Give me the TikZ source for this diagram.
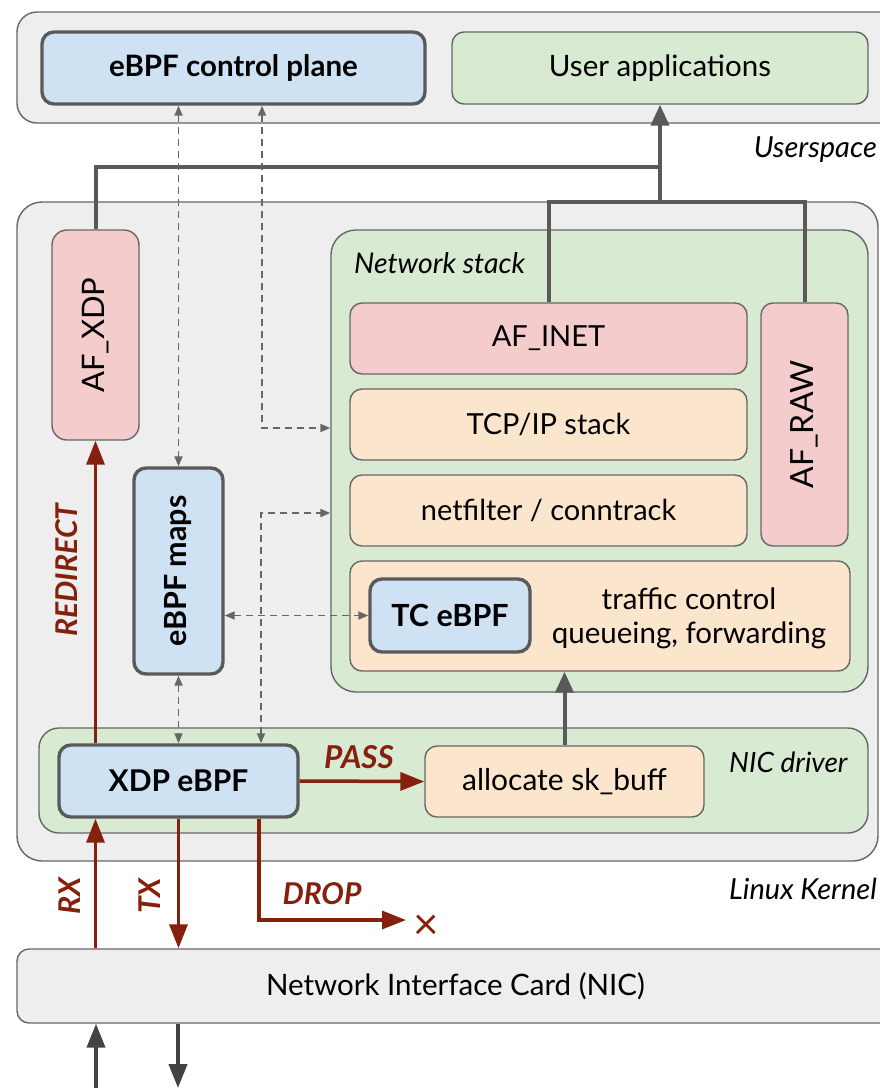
\documentclass[tikz,border=0pt]{standalone}
\usepackage{fontspec}
\usepackage{graphicx}
\setmainfont{Lato}
\usetikzlibrary{arrows.meta}

\definecolor{panelfill}{HTML}{EEEEEE}
\definecolor{edge}{HTML}{666666}
\definecolor{heavyedge}{HTML}{595959}
\definecolor{bluefill}{HTML}{CFE2F3}
\definecolor{greenfill}{HTML}{D9EAD3}
\definecolor{pinkfill}{HTML}{F4CCCC}
\definecolor{peachfill}{HTML}{FCE5CD}
\definecolor{flowred}{HTML}{85200C}
\definecolor{linkgray}{HTML}{595959}
\definecolor{wiregray}{HTML}{434343}

\newcommand{\sz}[2]{\fontsize{#1pt}{#2pt}\selectfont}

\tikzset{
  box/.style={draw=edge, line width=1.4pt, rounded corners=12pt, inner sep=0pt, text=black},
  panel/.style={box, fill=panelfill},
  greenbox/.style={box, fill=greenfill},
  pinkbox/.style={box, fill=pinkfill},
  peachbox/.style={box, fill=peachfill},
  ebpfbox/.style={box, draw=heavyedge, line width=3.4pt, fill=bluefill, font=\bfseries},
  caption/.style={inner sep=0pt, font=\itshape},
  flow/.style={draw=flowred, line width=3.5pt, -{Triangle[length=24pt,width=18pt]}},
  flowlabel/.style={inner sep=0pt, text=flowred, font=\bfseries\itshape\sz{30}{36}},
  sockpath/.style={draw=linkgray, line width=4pt},
  ctrllink/.style={draw=edge, line width=1.8pt, dash pattern=on 7pt off 5pt,
    {Triangle[length=10pt,width=8pt]}-{Triangle[length=10pt,width=8pt]}},
  wire/.style={draw=wiregray, line width=4pt},
}

\begin{document}
\begin{tikzpicture}[x=1pt, y=-1pt]
\useasboundingbox (0,0) rectangle (879,1088);

% ---------- Userspace ----------
\node[panel, rounded corners=20pt, minimum width=884pt, minimum height=111pt] (user) at (459,67.5) {};
\node[ebpfbox, minimum width=383pt, minimum height=72pt, font=\bfseries\sz{29.5}{35}] (ctrl) at (233.5,68) {eBPF control plane};
\node[greenbox, minimum width=416pt, minimum height=72pt, font=\sz{29.5}{35}] (apps) at (660,68) {User applications};
\node[caption, anchor=base east, font=\itshape\sz{29}{35}] (userlbl) at (877,157) {Userspace};

% ---------- Linux kernel ----------
\node[panel, rounded corners=25pt, minimum width=861pt, minimum height=659pt] (kernel) at (447.5,531.5) {};
\node[caption, anchor=base east, font=\itshape\sz{29}{35}] (kernlbl) at (877,899) {Linux Kernel};

\node[pinkbox, rounded corners=15pt, minimum width=87pt, minimum height=210pt, font=\sz{31}{37}] (afxdp) at (95.5,335) {\rotatebox{90}{AF\_XDP}};

% network stack
\node[greenbox, rounded corners=25pt, minimum width=537pt, minimum height=462pt] (netstack) at (599.5,461) {};
\node[caption, anchor=base west, font=\itshape\sz{28.5}{34}] (netlbl) at (354,273) {Network stack};
\node[pinkbox, minimum width=397pt, minimum height=71pt, font=\sz{29}{35}] (afinet) at (548.5,338.5) {AF\_INET};
\node[peachbox, minimum width=397pt, minimum height=71pt, font=\sz{29}{35}] (tcpip) at (548.5,424.5) {TCP/IP stack};
\node[peachbox, minimum width=397pt, minimum height=71pt, font=\sz{29}{35}] (netfilter) at (548.5,510.5) {netfilter / conntrack};
\node[pinkbox, minimum width=87pt, minimum height=243pt, font=\sz{32}{38}] (afraw) at (804.5,424.5) {\rotatebox{90}{AF\_RAW}};
\node[peachbox, minimum width=500pt, minimum height=110pt] (tcbox) at (600,616) {};
\node[ebpfbox, minimum width=160pt, minimum height=73pt, font=\bfseries\sz{30.5}{36}] (tcebpf) at (450,615.5) {TC eBPF};
\node[inner sep=0pt, align=center, font=\sz{29.5}{34}] (tctext) at (689,618) {traffic control\\queueing, forwarding};

% eBPF maps
\node[ebpfbox, minimum width=89pt, minimum height=206pt, font=\bfseries\sz{30.5}{36}] (maps) at (178.5,571) {\rotatebox{90}{eBPF maps}};

% NIC driver
\node[greenbox, rounded corners=20pt, minimum width=829pt, minimum height=105pt] (nicdrv) at (453.5,780.5) {};
\node[caption, anchor=base west, font=\itshape\sz{28}{34}] (drvlbl) at (729,772) {NIC driver};
\node[ebpfbox, minimum width=239pt, minimum height=72pt, font=\bfseries\sz{30}{36}] (xdp) at (178.5,781) {XDP eBPF};
\node[peachbox, minimum width=279pt, minimum height=71pt, font=\sz{30}{36}] (alloc) at (564.5,781.5) {allocate sk\_buff};

% ---------- NIC ----------
\node[panel, minimum width=884pt, minimum height=74pt] (nic) at (459,986) {};
\node[inner sep=0pt, font=\sz{29.5}{35}] (nictext) at (455.5,986) {Network Interface Card (NIC)};

% ---------- helper points ----------
\coordinate (jtop) at (660,167);
\coordinate (jlow) at (660,202);
\coordinate (cpR) at (262,428);
\coordinate (xdpR) at (261,513);
\coordinate (dropturn) at (259,920);
\coordinate (dropend) at (406,920);
\coordinate (wirein) at (96,1088);
\coordinate (wireout) at (178,1088);

% ---------- socket paths to userspace ----------
\draw[sockpath] (afxdp.north) |- (jtop);
\draw[sockpath] (afinet.north) |- (jlow) -| (afraw.north);
\draw[sockpath, -{Triangle[length=21pt,width=18pt]}] (jlow) -- (apps.south);
\draw[sockpath, -{Triangle[length=21pt,width=18pt]}] (alloc.north) -- (alloc.north |- tcbox.south);

% ---------- control links (dashed) ----------
\draw[ctrllink] (ctrl.south -| maps) -- (maps.north);
\draw[ctrllink] (ctrl.south -| cpR) |- (cpR -| netstack.west);
\draw[ctrllink] (maps.south) -- (xdp.north -| maps);
\draw[ctrllink] (xdp.north -| xdpR) |- (xdpR -| netstack.west);
\draw[ctrllink] (maps.east |- tcebpf.west) -- (tcebpf.west);

% ---------- XDP verdicts ----------
\draw[flow] (xdp.north -| afxdp) -- (afxdp.south);
\draw[flow] (nic.north -| afxdp) -- (xdp.south -| afxdp);
\draw[flow] (xdp.south) -- (nic.north -| xdp);
\draw[flow] (xdp.south -| dropturn) |- (dropend);
\draw[flow] (xdp.east) -- (alloc.west);

\node[flowlabel, rotate=90] (redirlbl) at (67,570) {REDIRECT};
\node[flowlabel, rotate=90] (rxlbl) at (70,896) {RX};
\node[flowlabel, rotate=90] (txlbl) at (150,896) {TX};
\node[flowlabel, anchor=base, font=\bfseries\itshape\sz{31.5}{37}] (passlbl) at (359,768) {PASS};
\node[flowlabel, anchor=base] (droplbl) at (322,904) {DROP};
\node[inner sep=0pt, text=flowred, font=\sz{44}{50}] (dropmark) at (426,927) {×};

% ---------- wire ----------
\draw[wire, -{Triangle[length=24pt,width=18pt]}] (wirein) -- (nic.south -| wirein);
\draw[wire, -{Triangle[length=24pt,width=18pt]}] (nic.south -| wireout) -- (wireout);
\end{tikzpicture}
\end{document}
